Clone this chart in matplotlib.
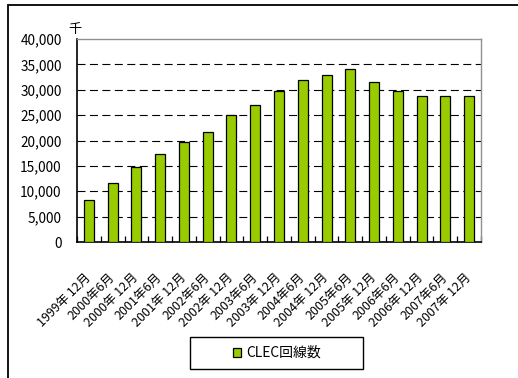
import matplotlib
matplotlib.use("Agg")
import matplotlib.pyplot as plt
from matplotlib.patches import Rectangle
from matplotlib.ticker import FixedLocator, FuncFormatter
import numpy as np

plt.rcParams['font.family'] = ['Noto Sans CJK JP', 'DejaVu Sans']

categories = ["1999年 12月", "2000年6月", "2000年 12月", "2001年6月", "2001年 12月",
              "2002年6月", "2002年 12月", "2003年6月", "2003年 12月", "2004年6月",
              "2004年 12月", "2005年6月", "2005年 12月", "2006年6月", "2006年 12月",
              "2007年6月", "2007年 12月"]
values = [8200, 11600, 14800, 17300, 19700, 21600, 25000, 26900, 29800, 32000,
          32900, 34000, 31500, 29800, 28700, 28700, 28700]
series_name = "CLEC回線数"
unit_label = "千"
yticks = [0, 5000, 10000, 15000, 20000, 25000, 30000, 35000, 40000]

W, H = 518, 378
fig = plt.figure(figsize=(W / 100, H / 100), dpi=100)
ax = fig.add_axes([77 / W, 1 - 242 / H, (481 - 77) / W, (242 - 39) / H])

x = np.arange(len(values))
bars = ax.bar(x, values, width=0.42, color='#99CC00', edgecolor='black',
              linewidth=0.9, zorder=3, label=series_name)

ax.set_xlim(-0.5, len(values) - 0.5)
ax.set_ylim(0, 40000)
ax.set_yticks(yticks)
ax.yaxis.set_major_formatter(FuncFormatter(lambda v, p: f"{int(v):,}"))
ax.tick_params(axis='y', length=0, pad=11, labelsize=9.8, colors='black')

for yv in yticks[1:-1]:
    ax.axhline(yv, color='black', linewidth=0.8, linestyle=(0, (7.2, 4)), zorder=1)

ax.set_xticks(x)
ax.set_xticklabels(categories, rotation=45, ha='right', va='center',
                   rotation_mode='anchor', fontsize=9)
ax.tick_params(axis='x', which='major', length=0, pad=24)
ax.xaxis.set_minor_locator(FixedLocator(np.arange(-0.5, len(values), 1.0)))
ax.tick_params(axis='x', which='minor', length=4, direction='in', width=0.9, color='black')

for s in ['top', 'right']:
    ax.spines[s].set_color('#909090')
    ax.spines[s].set_linewidth(1.0)
for s in ['left', 'bottom']:
    ax.spines[s].set_color('black')
    ax.spines[s].set_linewidth(1.2)

fig.text(75 / W, 1 - 29 / H, unit_label, ha='center', va='center', fontsize=9.5)

# Outer chart frame
fig.patches.append(Rectangle((8 / W, -0.1), 1.2, 1 - 5 / H + 0.1,
                             transform=fig.transFigure, fill=False,
                             edgecolor='black', linewidth=1.3, zorder=0))

# Legend box
fig.patches.append(Rectangle((190 / W, 1 - 369 / H), (363 - 190) / W, 32 / H,
                             transform=fig.transFigure, fill=False,
                             edgecolor='black', linewidth=1.0, zorder=5))
leg = fig.legend(handles=[bars], labels=[series_name], loc='center',
                 bbox_to_anchor=(277 / W, 1 - 353 / H), frameon=False,
                 fontsize=10, handlelength=0.6, handleheight=0.6,
                 handletextpad=0.4, borderpad=0)

fig.savefig("out.png", dpi=100)
